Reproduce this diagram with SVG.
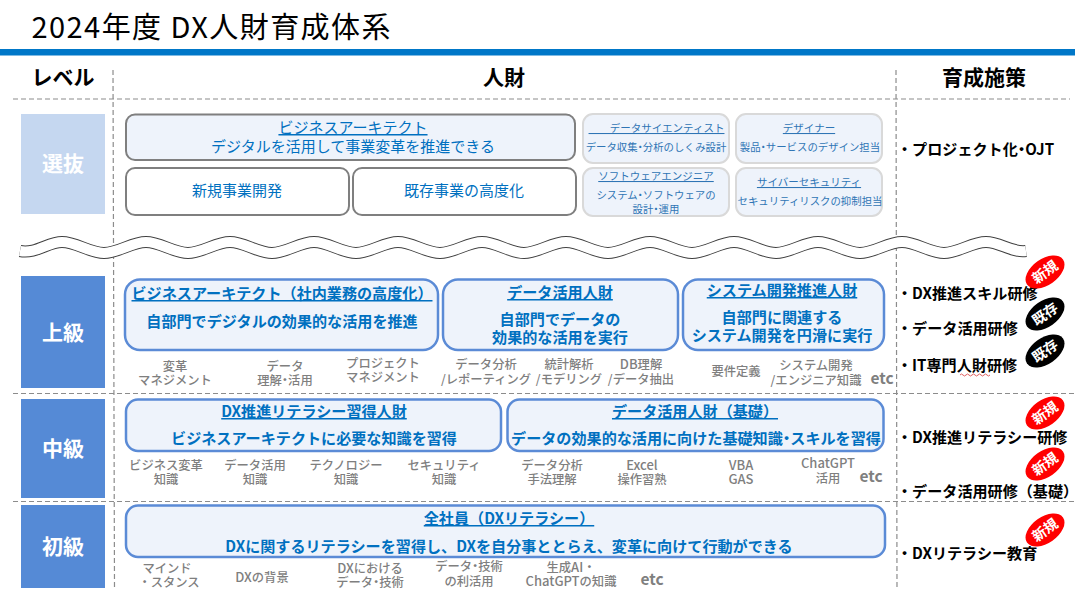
<svg xmlns="http://www.w3.org/2000/svg" width="1075" height="589" viewBox="0 0 1075 589">
<style>
text{font-family:"Noto Sans CJK JP","Noto Sans",sans-serif;text-anchor:middle}
.p{font-feature-settings:"palt"}
.dash{stroke:#8c8c8c;stroke-width:1.2;stroke-dasharray:5 3;fill:none}
.lvl{fill:#558AD6}
.lvt{fill:#fff;font-size:21px;font-weight:700}
.hd{fill:#000;font-size:21px;font-weight:700}
.g{fill:#EEF3FB;stroke:#7f7f7f;stroke-width:2}
.w{fill:#fff;stroke:#7f7f7f;stroke-width:2}
.s{fill:#EEF3FB;stroke:#d9d9d9;stroke-width:2}
.b{fill:#EEF3FB;stroke:#5B8BD6;stroke-width:2.5}
.t15{fill:#0070C0;font-size:15px}
.tb{fill:#0070C0;font-size:15.1px;font-weight:700}
.u{text-decoration:underline}
.t10{fill:#2F75B5;font-size:10.4px}
.t105{fill:#2F75B5;font-size:10.5px}
.i{fill:#7f7f7f;font-size:12.3px;font-weight:500}
.il{font-size:13px}
.etc{fill:#7f7f7f;font-size:15.5px;font-weight:700}
.r{fill:#000;font-size:15.1px;font-weight:700;text-anchor:start}
.bt{fill:#fff;font-size:14px;font-weight:700}
</style>
<rect x="0" y="49" width="1075" height="6.5" fill="#0077C8"/>
<text x="211" y="38" fill="#000" font-size="29px" textLength="359">2024年度 DX人財育成体系</text>
<g id="grid">
<path class="dash" d="M13 99H1070M13 393.500H1075M13 501.500H1075M113 70L114.500 589M896 70L897 589"/>
</g>
<g id="wave" fill="none">
<path d="M20 251C36 254 48 242 62 242s28 11 42 11s28-11 42-11s28 11 42 11s28-11 42-11s28 11 42 11s28-11 42-11s28 11 42 11s28-11 42-11s28 11 42 11s28-11 42-11s28 11 42 11s28-11 42-11s28 11 42 11s28-11 42-11s28 11 42 11s28-11 42-11s28 11 42 11s28-11 42-11s28 11 42 11s28-11 42-11s28 11 42 11s28-11 42-11s26 11 40 9" stroke="#404040" stroke-width="12"/>
<path d="M20 251C36 254 48 242 62 242s28 11 42 11s28-11 42-11s28 11 42 11s28-11 42-11s28 11 42 11s28-11 42-11s28 11 42 11s28-11 42-11s28 11 42 11s28-11 42-11s28 11 42 11s28-11 42-11s28 11 42 11s28-11 42-11s28 11 42 11s28-11 42-11s28 11 42 11s28-11 42-11s28 11 42 11s28-11 42-11s28 11 42 11s28-11 42-11s26 11 40 9" stroke="#fff" stroke-width="10"/>
</g>
<g id="header">
<text class="hd" x="63" y="85">レベル</text>
<text class="hd" x="504" y="85">人財</text>
<text class="hd" x="984" y="85">育成施策</text>
</g>
<g id="lv-senbatsu"><rect x="21" y="114" width="84" height="100" fill="#C5D7F0"/><text class="lvt" x="63" y="171">選抜</text></g>
<g id="lv-jokyu"><rect class="lvl" x="21" y="276" width="84" height="112"/><text class="lvt" x="63" y="340">上級</text></g>
<g id="lv-chukyu"><rect class="lvl" x="21" y="399" width="84" height="99"/><text class="lvt" x="63" y="456">中級</text></g>
<g id="lv-shokyu"><rect class="lvl" x="21" y="505" width="84" height="83"/><text class="lvt" x="63" y="554">初級</text></g>

<g id="n-ba"><rect class="g" x="126" y="114.500" width="449" height="45.500" rx="9"/><text class="t15 u" x="353" y="133">ビジネスアーキテクト</text><text class="t15" x="353" y="152">デジタルを活用して事業変革を推進できる</text></g>
<g id="n-new"><rect class="w" x="126" y="168" width="223" height="47" rx="9"/><text class="t15" x="237" y="196">新規事業開発</text></g>
<g id="n-exist"><rect class="w" x="353" y="168" width="223" height="47" rx="9"/><text class="t15" x="464" y="196">既存事業の高度化</text></g>
<g id="n-ds"><rect class="s" x="583" y="114" width="146" height="49" rx="10"/><text class="t105 u" x="656.500" y="132">&#160;&#160;&#160;&#160;&#160;&#160;&#160;&#160;&#160;データサイエンティスト</text><text class="t10" x="656" y="151">データ収集<tspan class="p">・</tspan>分析のしくみ設計</text></g>
<g id="n-des"><rect class="s" x="736" y="114" width="146" height="49" rx="10"/><text class="t105 u" x="809" y="132">デザイナー</text><text class="t10" x="810" y="151">製品<tspan class="p">・</tspan>サービスのデザイン担当</text></g>
<g id="n-se"><rect class="s" x="583" y="168" width="146" height="48" rx="10"/><text class="t105 u" x="656" y="180">ソフトウェアエンジニア</text><text class="t10" x="656" y="199">システム<tspan class="p">・</tspan>ソフトウェアの</text><text class="t10" x="656" y="212.500">設計<tspan class="p">・</tspan>運用</text></g>
<g id="n-sec"><rect class="s" x="736" y="168" width="146" height="48" rx="10"/><text class="t105 u" x="809" y="186">サイバーセキュリティ</text><text class="t10" x="810" y="205">セキュリティリスクの抑制担当</text></g>

<g id="n-ba2"><rect class="b" x="125" y="279.500" width="313" height="70.500" rx="15"/><text class="tb u" x="282" y="299">ビジネスアーキテクト（社内業務の高度化）</text><text class="tb" x="282" y="327">自部門でデジタルの効果的な活用を推進</text></g>
<g id="n-data"><rect class="b" x="443" y="279.500" width="235" height="70.500" rx="15"/><text class="tb u" x="560" y="298">データ活用人財</text><text class="tb" x="560" y="325">自部門でデータの</text><text class="tb" x="560" y="343">効果的な活用を実行</text></g>
<g id="n-sys"><rect class="b" x="683" y="279.500" width="201" height="70.500" rx="15"/><text class="tb u" x="782" y="296">システム開発推進人財</text><text class="tb" x="782" y="323">自部門に関連する</text><text class="tb" x="782" y="341">システム開発を円滑に実行</text></g>
<g id="n-dx"><rect class="b" x="126" y="399.500" width="375" height="51.500" rx="12"/><text class="tb u" x="314" y="417">DX推進リテラシー習得人財</text><text class="tb" x="314" y="444">ビジネスアーキテクトに必要な知識を習得</text></g>
<g id="n-data2"><rect class="b" x="507.500" y="399.500" width="376" height="51.500" rx="12"/><text class="tb u" x="695" y="417">データ活用人財（基礎）</text><text class="tb" x="696" y="444">データの効果的な活用に向けた基礎知識<tspan class="p">・</tspan>スキルを習得</text></g>
<g id="n-all"><rect class="b" x="126" y="505.500" width="759" height="51.500" rx="12"/><text class="tb u" x="509" y="524">全社員（DXリテラシー）</text><text class="tb" x="509" y="552">DXに関するリテラシーを習得し、DXを自分事ととらえ、変革に向けて行動ができる</text></g>

<g id="skills-jokyu">
<text class="i" x="175" y="371">変革</text><text class="i" x="175" y="385">マネジメント</text>
<text class="i" x="285" y="371">データ</text><text class="i" x="285" y="385">理解<tspan class="p">・</tspan>活用</text>
<text class="i" x="383" y="368">プロジェクト</text><text class="i" x="383" y="382">マネジメント</text>
<text class="i" x="486" y="369">データ分析</text><text class="i" x="486" y="384">/レポーティング</text>
<text class="i" x="569" y="369">統計解析</text><text class="i" x="569" y="384">/モデリング</text>
<text class="i" x="641" y="369"><tspan class="il">DB</tspan>理解</text><text class="i" x="641" y="384">/データ抽出</text>
<text class="i" x="736" y="376">要件定義</text>
<text class="i" x="816" y="370">システム開発</text><text class="i" x="816" y="385">/エンジニア知識</text>
<text class="etc" x="882" y="384">etc</text>
</g>
<g id="skills-chukyu">
<text class="i" x="166" y="470">ビジネス変革</text><text class="i" x="166" y="484">知識</text>
<text class="i" x="255" y="470">データ活用</text><text class="i" x="255" y="484">知識</text>
<text class="i" x="346" y="470">テクノロジー</text><text class="i" x="346" y="484">知識</text>
<text class="i" x="444" y="470">セキュリティ</text><text class="i" x="444" y="484">知識</text>
<text class="i" x="552" y="470">データ分析</text><text class="i" x="552" y="484">手法理解</text>
<text class="i il" x="642" y="470">Excel</text><text class="i" x="642" y="484">操作習熟</text>
<text class="i il" x="741" y="470">VBA</text><text class="i il" x="741" y="484">GAS</text>
<text class="i il" x="828" y="468">ChatGPT</text><text class="i" x="828" y="483">活用</text>
<text class="etc" x="871" y="482">etc</text>
</g>
<g id="skills-shokyu">
<text class="i" x="167" y="573">マインド</text><text class="i" x="169" y="587">・スタンス</text>
<text class="i" x="262" y="582"><tspan class="il">DX</tspan>の背景</text>
<text class="i" x="370" y="573"><tspan class="il">DX</tspan>における</text><text class="i" x="370" y="587">データ<tspan class="p">・</tspan>技術</text>
<text class="i" x="469" y="571">データ<tspan class="p">・</tspan>技術</text><text class="i" x="469" y="586">の利活用</text>
<text class="i" x="571" y="572">生成<tspan class="il">AI</tspan>・</text><text class="i" x="571" y="586"><tspan class="il">ChatGPT</tspan>の知識</text>
<text class="etc" x="652" y="585">etc</text>
</g>

<g id="measures">
<text class="r" x="897" y="155">・プロジェクト化<tspan class="p">・</tspan>OJT</text>
<text class="r" x="897" y="299">・DX推進スキル研修</text>
<text class="r" x="897" y="334">・データ活用研修</text>
<text class="r" x="897" y="371">・IT専門人財研修</text>
<path d="M960 375q1.500-2 3 0t3 0t3 0t3 0t3 0t3 0t3 0t3 0t3 0t3 0" fill="none" stroke="#e06060" stroke-width="1"/>
<text class="r" x="897" y="443">・DX推進リテラシー研修</text>
<text class="r" x="897" y="497">・データ活用研修（基礎）</text>
<text class="r" x="897" y="559">・DXリテラシー教育</text>
</g>
<g id="badge-1" transform="translate(1045 272) rotate(-35)"><ellipse rx="22" ry="13" fill="#FF0000"/><text class="bt" y="5">新規</text></g>
<g id="badge-2" transform="translate(1045 314) rotate(-35)"><ellipse rx="22" ry="13" fill="#000"/><text class="bt" y="5">既存</text></g>
<g id="badge-3" transform="translate(1045 351) rotate(-35)"><ellipse rx="22" ry="13" fill="#000"/><text class="bt" y="5">既存</text></g>
<g id="badge-4" transform="translate(1045 413) rotate(-35)"><ellipse rx="22" ry="13" fill="#FF0000"/><text class="bt" y="5">新規</text></g>
<g id="badge-5" transform="translate(1045 464) rotate(-35)"><ellipse rx="22" ry="13" fill="#FF0000"/><text class="bt" y="5">新規</text></g>
<g id="badge-6" transform="translate(1045 530) rotate(-35)"><ellipse rx="22" ry="13" fill="#FF0000"/><text class="bt" y="5">新規</text></g>
</svg>
